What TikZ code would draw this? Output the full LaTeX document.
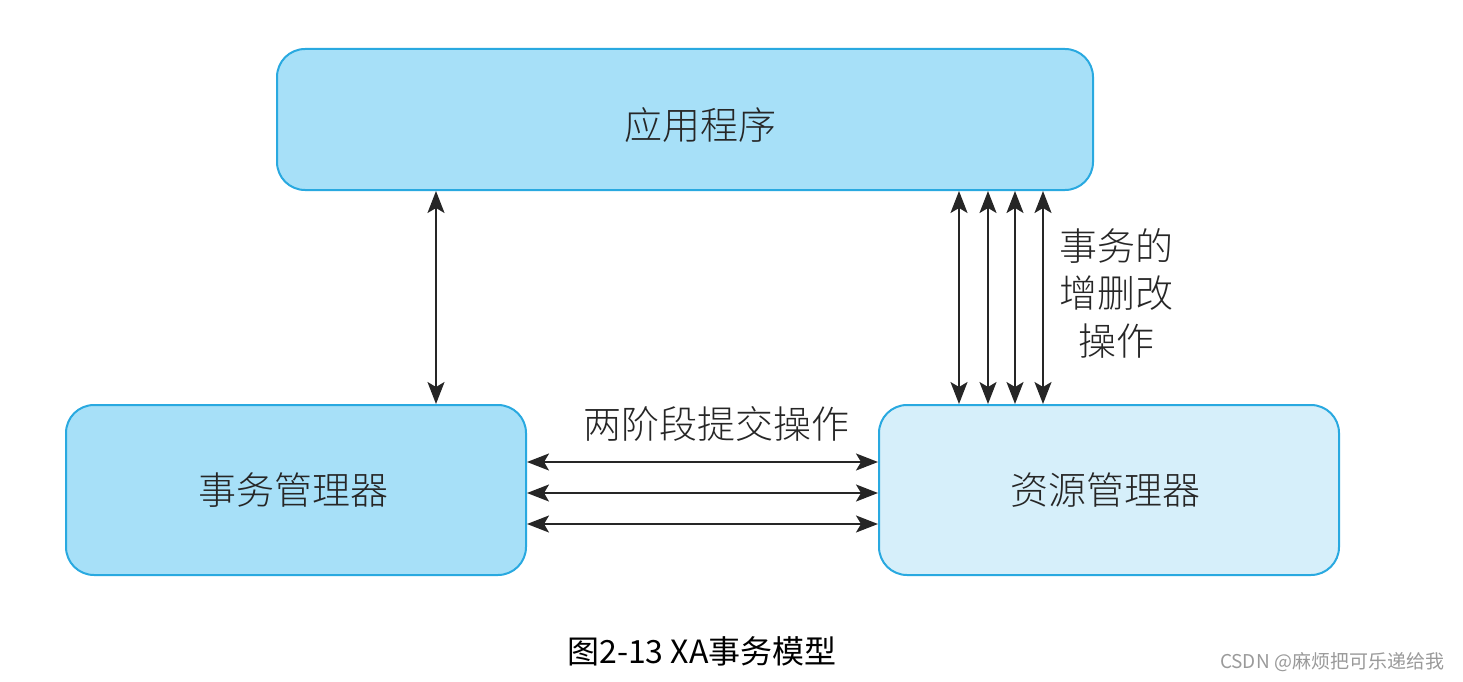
\documentclass[tikz,border=0pt]{standalone}
\usepackage{fontspec}
\usetikzlibrary{arrows.meta}
\newfontfamily\cjk{Noto Sans CJK SC}
\newfontfamily\cjklight{Noto Sans CJK SC Light}
\definecolor{boxline}{HTML}{29A9E0}
\definecolor{boxfillA}{HTML}{A7E0F8}
\definecolor{boxfillB}{HTML}{D6EFFA}
\definecolor{wm}{HTML}{9A9A9A}
\tikzset{
  mbox/.style={draw=boxline, line width=2pt, rounded corners=28pt, inner sep=0pt, fill=boxfillA},
  lbl/.style={font=\cjklight\fontsize{38}{46}\selectfont, text=black!85},
  conn/.style={line width=2pt, black!85, {Stealth[length=22pt,width=17pt,inset=5pt]}-{Stealth[length=22pt,width=17pt,inset=5pt]}}
}
\begin{document}
\begin{tikzpicture}[x=1pt,y=-1pt]
\useasboundingbox (0,0) rectangle (1463,682);
\node[mbox, minimum width=816pt, minimum height=141pt] (app) at (685,119.5) {};
\node[mbox, minimum width=460pt, minimum height=170pt] (tm) at (296,490) {};
\node[mbox, fill=boxfillB, minimum width=460pt, minimum height=170pt] (rm) at (1109,490) {};
\node[lbl] (appl) at (700,125) {应用程序};
\node[lbl] (tml) at (293,490) {事务管理器};
\node[lbl] (rml) at (1105,490) {资源管理器};
% app - tm
\coordinate (a1) at (436,191);
\coordinate (a2) at (436,404);
\draw[conn] (a1) -- (a2);
% app - rm
\foreach \x [count=\i] in {959,988,1015,1043}{
  \coordinate (u\i) at (\x,191);
  \coordinate (d\i) at (\x,404);
  \draw[conn] (u\i) -- (d\i);
}
% tm - rm
\foreach \y [count=\i] in {462,493,524}{
  \coordinate (l\i) at (527,\y);
  \coordinate (r\i) at (878,\y);
  \draw[conn] (l\i) -- (r\i);
}
\node[lbl] (two) at (716,424) {两阶段提交操作};
\node[lbl, align=center, font=\cjklight\fontsize{38}{47.5}\selectfont] (crud) at (1116,293) {事务的\\增删改\\操作};
\node[font=\cjk\fontsize{32}{38}\selectfont] (cap) at (702,651) {图2-13 XA事务模型};
\node[font=\cjk\fontsize{19}{22}\selectfont, text=wm] (wmk) at (1332,662) {CSDN @麻烦把可乐递给我};
\end{tikzpicture}
\end{document}
